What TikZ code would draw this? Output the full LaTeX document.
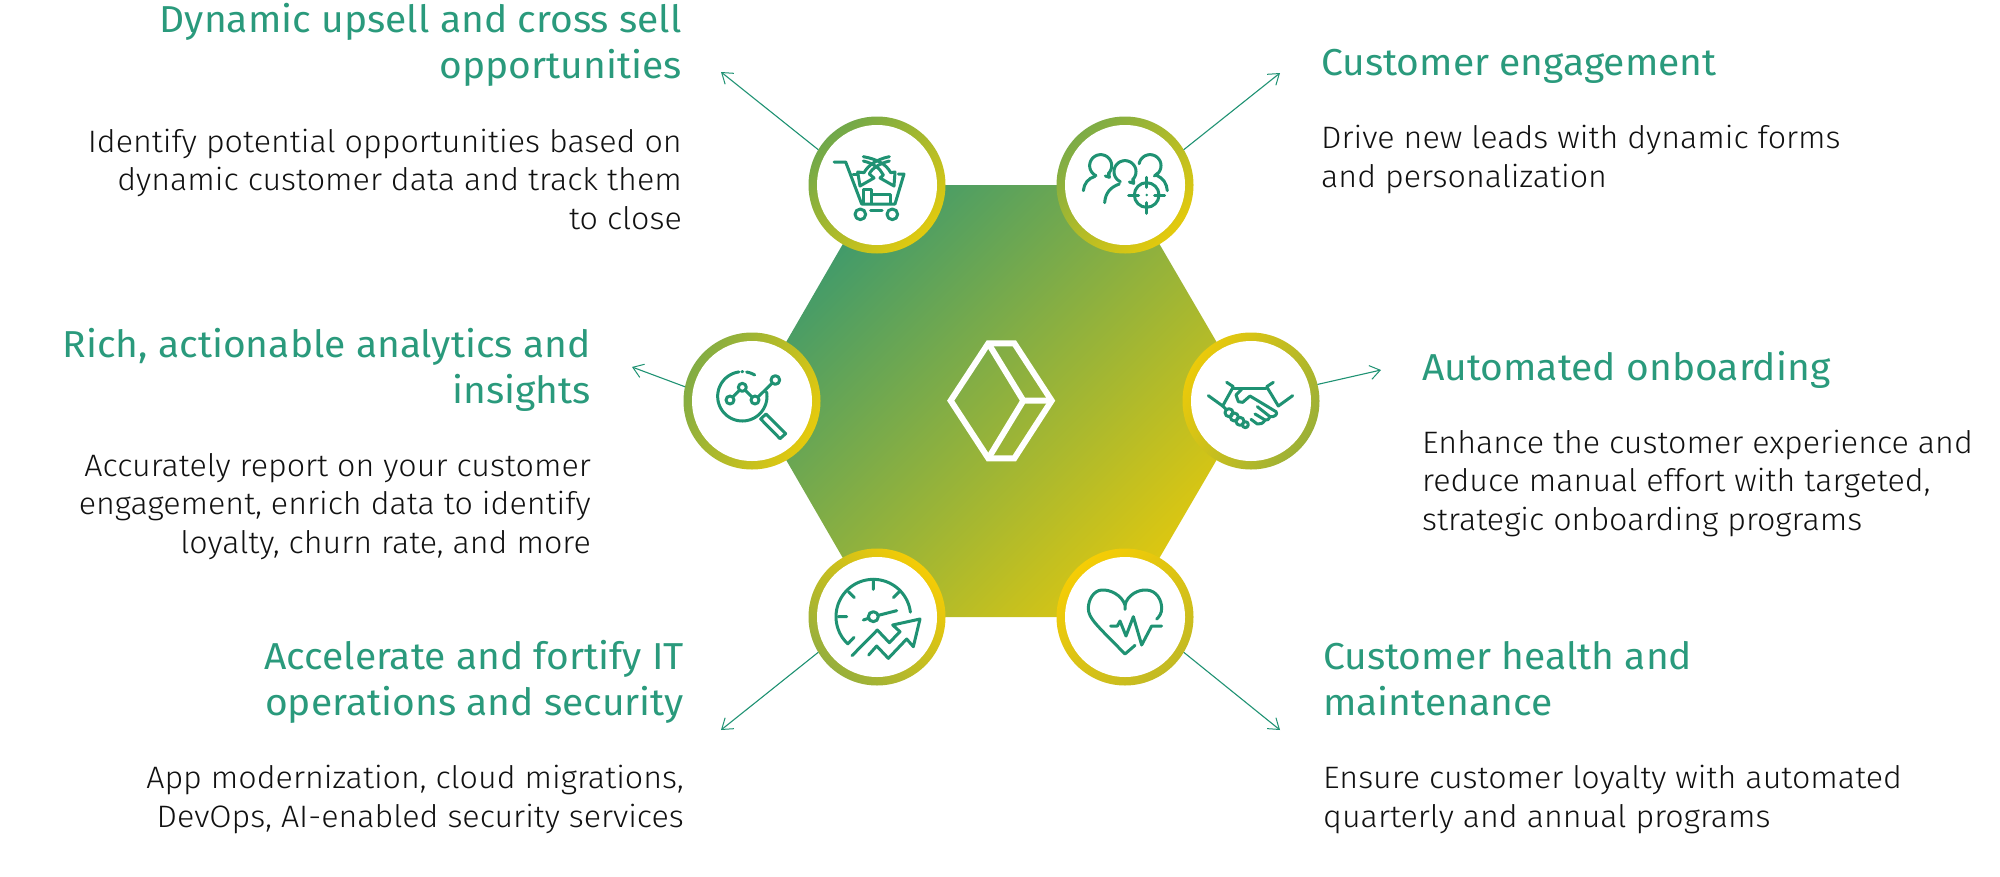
\documentclass[tikz,border=0pt]{standalone}
\usepackage{fontspec}
\setmainfont{Fira Sans}[UprightFont=* Light]
\newfontfamily\headfam{Fira Sans}[FakeStretch=1.04]
\newfontfamily\bodyfam{Fira Sans}[UprightFont=* Light,FakeStretch=1.04]
\usetikzlibrary{arrows.meta}
\definecolor{icoteal}{HTML}{1F9273}
\definecolor{headcol}{HTML}{2A9A7C}
\definecolor{txt}{HTML}{111111}
\definecolor{hexstart}{HTML}{3F9A6C}
\definecolor{hexend}{HTML}{E0C80F}
\newcommand{\myarc}[5]{\draw[ico] plot[domain=#4:#5,samples=50,variable=\t] ({#1+#3*cos(\t)},{#2+#3*sin(\t)});}
\tikzset{
  x=1pt,y=-1pt,
  ring/.style={circle,minimum size=137pt,inner sep=0pt,outer sep=0pt},
  hole/.style={circle,fill=white,minimum size=120pt,inner sep=0pt},
  ico/.style={draw=icoteal,line width=3pt,line cap=round,line join=round},
  logo/.style={draw=white,line width=6pt,line join=miter},
  conn/.style={draw=icoteal,line width=1.1pt,-{Straight Barb[length=10pt,width=14pt,line width=1pt]}},
  headtxt/.style={text=headcol,font=\headfam\fontsize{37.5}{46}\selectfont,inner sep=0pt},
  bodytxt/.style={text=txt,font=\bodyfam\fontsize{31}{38.4}\selectfont,inner sep=0pt},
  lblock/.style={anchor=base east,align=right},
  rblock/.style={anchor=base west,align=left},
}
\begin{document}
\begin{tikzpicture}
\useasboundingbox (0,0) rectangle (2000,876);
% hexagon
\shade[left color=hexstart,right color=hexend,shading angle=45] (877,185)--(1125,185)--(1251,401)--(1125,617)--(877,617)--(752,401)--cycle;
% rings
\node[ring,left color={rgb,255:red,112;green,168;blue,74},right color={rgb,255:red,225;green,202;blue,15},shading angle=45] (tl) at (877,185) {};
\node[ring,left color={rgb,255:red,125;green,172;blue,70},right color={rgb,255:red,228;green,202;blue,12},shading angle=45] (tr) at (1125,185) {};
\node[ring,left color={rgb,255:red,130;green,172;blue,68},right color={rgb,255:red,230;green,202;blue,12},shading angle=65] (ml) at (752,401) {};
\node[ring,left color={rgb,255:red,235;green,202;blue,10},right color={rgb,255:red,155;green,176;blue,55},shading angle=60] (mr) at (1251,401) {};
\node[ring,left color={rgb,255:red,150;green,175;blue,60},right color={rgb,255:red,245;green,204;blue,5},shading angle=135] (bl) at (877,617) {};
\node[ring,left color={rgb,255:red,245;green,205;blue,5},right color={rgb,255:red,195;green,186;blue,35},shading angle=40] (br) at (1125,617) {};
\foreach \n in {tl,tr,ml,mr,bl,br} \node[hole] (\n hole) at (\n) {};
% free ends of the connectors
\coordinate (etl) at (721,72);
\coordinate (etr) at (1280,73);
\coordinate (eml) at (632,367);
\coordinate (emr) at (1381,370);
\coordinate (ebl) at (721,730);
\coordinate (ebr) at (1280,730);
\draw[conn] (tl.149) -- (etl);
\draw[conn] (tr.31) -- (etr);
\draw[conn] (ml.168) -- (eml);
\draw[conn] (mr.14) -- (emr);
\draw[conn] (bl.211) -- (ebl);
\draw[conn] (br.-31) -- (ebr);
% centre logo
\begin{scope}[shift={(920,320)},scale=1/3]
\draw[logo] (92,242)--(205,70)--(283,70)--(395,242)--(283,415)--(205,415)--cycle;
\draw[logo] (205,70)--(310,242)--(205,415) (310,242)--(395,242);
\end{scope}
% cart icon
\begin{scope}[shift={(780,100)},scale=1/3]
\draw[ico] (162,186)--(197,186)--(245,312)--(345,312)--(372,222)--(355,222);
\draw[ico] (219,222)--(233,222);
\draw[ico] (241,343) circle (16) (337,343) circle (16);
\draw[ico] (272,331)--(306,331);
\draw[ico] (250,308)--(250,268)--(274,268)--(274,308) (274,283)--(332,283)--(332,308);
\draw[ico] (250,170) .. controls (295,178) and (320,195) .. (332,218);
\draw[ico] (250,183) .. controls (280,190) and (300,205) .. (310,225);
\draw[ico] (328,170) .. controls (290,178) and (265,195) .. (252,218);
\draw[ico] (328,183) .. controls (300,190) and (275,205) .. (268,222);
\draw[ico] (252,218)--(233,216)--(240,258)--(282,234)--(268,222);
\draw[ico] (332,218)--(345,216)--(342,258)--(300,234)--(310,225);
\end{scope}
% people icon
\begin{scope}[shift={(1040,100)},scale=1/3]
\myarc{182}{197}{33}{115}{407}
\draw[ico] (207,219)--(208,232)--(196,228);
\draw[ico] (130,272) .. controls (132,250) and (145,235) .. (165,229);
\myarc{255}{215}{33}{115}{407}
\draw[ico] (280,237)--(281,250)--(268,246);
\draw[ico] (194,308) .. controls (196,280) and (210,262) .. (238,252);
\myarc{330}{197}{33}{190}{415}
\draw[ico] (354,219)--(343,228);
\draw[ico] (350,226) .. controls (370,235) and (380,250) .. (382,272);
\draw[ico] (320,285) circle (37);
\draw[ico] (320,232)--(320,262) (320,308)--(320,340) (266,285)--(296,285) (344,285)--(374,285);
\fill[icoteal] (320,285) circle (4);
\end{scope}
% analytics icon
\begin{scope}[shift={(670,320)},scale=1/3]
\myarc{217}{229}{74}{-10}{262}
\myarc{217}{229}{74}{280}{300}
\myarc{217}{229}{74}{269}{271}
\draw[ico] (180,240) circle (12) (217,202) circle (12) (255,240) circle (12) (316,180) circle (13);
\draw[ico] (188,231)--(208,211) (226,211)--(246,231) (264,231)--(307,189);
\draw[ico] (288,282)--(347,341)--(330,356)--(272,297)--cycle;
\end{scope}
% handshake icon
\begin{scope}[shift={(1170,320)},scale=1/3]
\draw[ico] (115,227)--(158,258)--(190,200)--(170,187);
\draw[ico] (190,205)--(288,205);
\draw[ico] (368,227)--(325,258)--(290,200)--(310,187);
\draw[ico] (215,208)--(198,225)--(205,245)--(218,247)--(240,228)--(318,275) .. controls (324,282) and (315,292) .. (300,290)--(262,260);
\draw[ico] (300,290) .. controls (298,298) and (292,302) .. (285,300)--(255,282);
\draw[ico] (285,300) .. controls (280,310) and (270,314) .. (262,312)--(243,298);
\draw[ico] (177,278) circle (12) (193,291) circle (12) (210,304) circle (12) (226,314) circle (9);
\draw[ico] (158,258)--(168,268);
\end{scope}
% gauge icon
\begin{scope}[shift={(790,540)},scale=1/3]
\myarc{250}{230}{112}{133}{353}
\draw[ico] (250,118)--(250,148) (145,230)--(170,230) (175,155)--(193,173) (328,155)--(310,173) (175,310)--(192,292);
\draw[ico] (250,230) circle (15);
\draw[ico] (220,240)--(235,235) (265,226)--(320,212);
\draw[ico] (186,347)--(262,270)--(298,308)--(330,275)--(308,255)--(390,237)--(370,320)--(350,297)--(295,355)--(260,318)--(236,345);
\end{scope}
% heart icon
\begin{scope}[shift={(1040,540)},scale=1/3]
\draw[ico] (255,208) -- (255,195) .. controls (245,165) and (210,148) .. (185,150) .. controls (160,152) and (145,180) .. (145,205) .. controls (145,235) and (170,255) .. (255,342) -- (285,316);
\draw[ico] (255,195) .. controls (262,165) and (295,148) .. (320,150) .. controls (350,152) and (365,180) .. (365,205) .. controls (365,220) and (358,230) .. (350,237);
\draw[ico] (212,258)--(232,258)--(240,243)--(258,288)--(280,230)--(305,315)--(335,258)--(365,258);
\end{scope}
% texts (each anchored at the baseline of its last line)
\node[headtxt,lblock] (t1) at (682,78) {Dynamic upsell and cross sell\\opportunities};
\node[bodytxt,lblock] (b1) at (682,229) {Identify potential opportunities based on\\dynamic customer data and track them\\to close};
\node[headtxt,lblock] (t2) at (591,403) {Rich, actionable analytics and\\insights};
\node[bodytxt,lblock] (b2) at (591,553) {Accurately report on your customer\\engagement, enrich data to identify\\loyalty, churn rate, and more};
\node[headtxt,lblock] (t3) at (684,715) {Accelerate and fortify IT\\operations and security};
\node[bodytxt,lblock] (b3) at (684,827) {App modernization, cloud migrations,\\DevOps, AI-enabled security services};
\node[headtxt,rblock] (t4) at (1321,75) {Customer engagement};
\node[bodytxt,rblock] (b4) at (1321,187) {Drive new leads with dynamic forms\\and personalization};
\node[headtxt,rblock] (t5) at (1422,380) {Automated onboarding};
\node[bodytxt,rblock] (b5) at (1422,530) {Enhance the customer experience and\\reduce manual effort with targeted,\\strategic onboarding programs};
\node[headtxt,rblock] (t6) at (1323,715) {Customer health and\\maintenance};
\node[bodytxt,rblock] (b6) at (1323,827) {Ensure customer loyalty with automated\\quarterly and annual programs};
\end{tikzpicture}
\end{document}
